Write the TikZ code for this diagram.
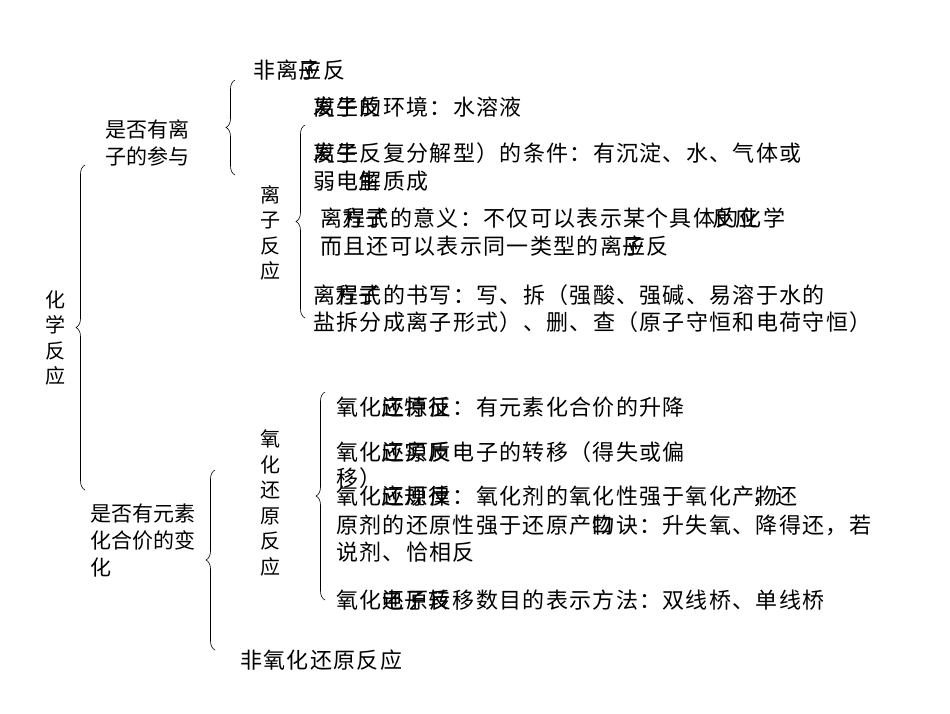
\documentclass[tikz,border=0pt]{standalone}
\usepackage{fontspec}
\newfontfamily\cjk[LetterSpace=6]{Noto Sans CJK SC}
\newfontfamily\cjkv{Noto Sans CJK SC}
\usetikzlibrary{decorations.pathreplacing}
\begin{document}
\begin{tikzpicture}[x=1pt,y=-1pt,
  t/.style={anchor=west,inner sep=0pt,font=\cjk\fontsize{22}{26}\selectfont},
  v/.style={anchor=center,inner sep=0pt,align=center,font=\cjkv\fontsize{20}{25.5}\selectfont},
  br/.style={decorate,decoration={brace,amplitude=9pt},line width=0.6pt}]
\useasboundingbox[fill=white] (0,0) rectangle (950,713);
% vertical labels
\node[v] (hx) at (55,338) {化\\学\\反\\应};
\node[v] (lz) at (270,233) {离\\子\\反\\应};
\node[v] (yh) at (270,503) {氧\\化\\还\\原\\反\\应};
\node[t,align=left,font=\cjkv\fontsize{21}{27}\selectfont] (q1) at (105,143) {是否有离\\子的参与};
\node[t,align=left,font=\cjkv\fontsize{21}{27}\selectfont] (q2) at (90,540) {是否有元素\\化合价的变\\化};
% braces
\draw[br] (85,490) -- (85,165);
\draw[br] (235,175) -- (235,80);
\draw[br] (305,318) -- (305,125);
\draw[br] (325,600) -- (325,392);
\draw[br] (215,650) -- (215,470);
% texts
\node[t] (n1) at (253,70) {非离应反};
\node[t] at (253,70) {\phantom{非离}子};
\node[t] (a1) at (313,107) {发生的环境：水溶液};
\node[t] at (313,107) {离子反};
\node[t] (a2) at (313,153) {发生反复分解型）的条件：有沉淀、水、气体或};
\node[t] at (313,153) {离子};
\node[t] (a3) at (313,181) {弱电解质成};
\node[t] at (313,181) {\phantom{弱电}生};
\node[t] (b1) at (320,218) {离程式的意义：不仅可以表示某个具体的化学};
\node[t] at (320,218) {\phantom{离}方子\phantom{的意义：不仅可以表示某个具体}反应};
\node[t] (b2) at (320,246) {而且还可以表示同一类型的离应反};
\node[t] at (320,246) {\phantom{而且还可以表示同一类型的离}子};
\node[t] (c1) at (313,295) {离程式的书写：写、拆（强酸、强碱、易溶于水的};
\node[t] at (313,295) {\phantom{离}方子};
\node[t] (c2) at (313,322) {盐拆分成离子形式）、删、查（原子守恒和电荷守恒）};
\node[t] (d1) at (336,407) {氧化还原反：有元素化合价的升降};
\node[t] at (336,407) {\phantom{氧化}应特征};
\node[t] (e1) at (336,452) {氧化还原反电子的转移（得失或偏};
\node[t] at (336,452) {\phantom{氧化}应实质};
\node[t] (e2) at (336,478) {移）};
\node[t] (f1) at (336,496) {氧化还原反：氧化剂的氧化性强于氧化产物};
\node[t] at (336,496) {\phantom{氧化}应规律\phantom{：氧化剂的氧化性强于氧化产}，还};
\node[t] (f2) at (336,525) {原剂的还原性强于还原产物诀：升失氧、降得还，若};
\node[t] at (336,525) {\phantom{原剂的还原性强于还原产}口};
\node[t] (f3) at (336,552) {说剂、恰相反};
\node[t] (g1) at (336,600) {氧化还原反移数目的表示方法：双线桥、单线桥};
\node[t] at (336,600) {\phantom{氧化}电子转};
\node[t] (n2) at (240,660) {非氧化还原反应};
\end{tikzpicture}
\end{document}
